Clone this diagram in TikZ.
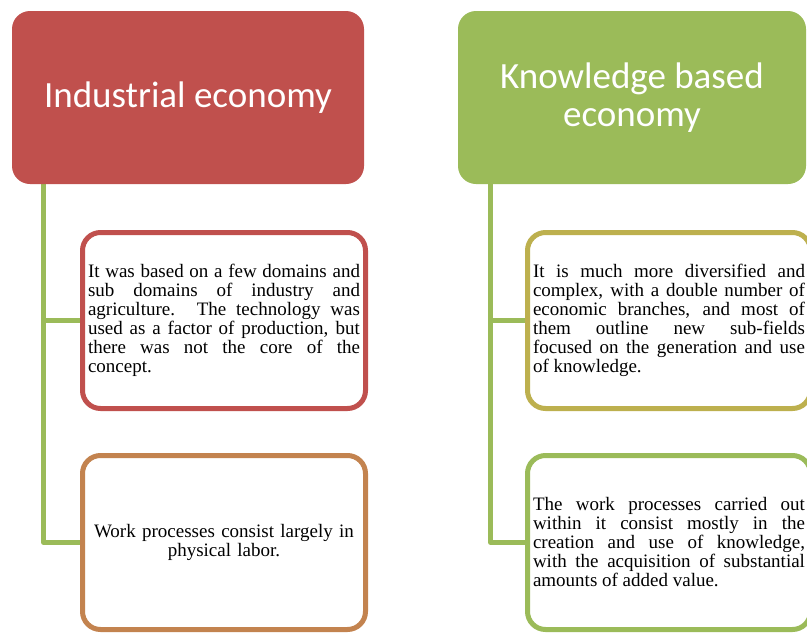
\documentclass[tikz,border=0pt]{standalone}
\usepackage{fontspec}
\setmainfont{Liberation Serif}
\newfontfamily\hdfont{Carlito}
\usetikzlibrary{backgrounds}
\setlength{\parindent}{0pt}
\tolerance=10000
\hyphenpenalty=10000
\definecolor{ired}{HTML}{C0504D}
\definecolor{kgreen}{HTML}{9BBB59}
\definecolor{ibrown}{HTML}{C3834F}
\definecolor{kolive}{HTML}{BDB04E}
\tikzset{
  header/.style={fill=#1, rounded corners=18pt, minimum height=173pt,
    inner sep=0pt, text=white, align=center,
    font=\hdfont\fontsize{37}{38.5}\selectfont},
  infobox/.style={draw=#1, fill=white, line width=5pt, rounded corners=18pt,
    minimum width=283pt, inner sep=0pt, text=black,
    font=\fontsize{19}{19}\selectfont},
  jtext/.style={text width=272pt, align=justify},
  ctext/.style={text width=272pt, align=center},
  link/.style={draw=kgreen, line width=5pt, line join=round}
}
\begin{document}
\begin{tikzpicture}[x=1pt,y=-1pt]
\useasboundingbox (0,0) rectangle (807,633);
% headers
\node[header=ired, minimum width=352pt] (h1) at (188,97.5) {Industrial economy};
\node[header=kgreen, minimum width=348pt] (h2) at (632,97.5) {Knowledge based\\economy};
% left boxes
\node[infobox=ired, jtext, minimum height=176pt] (b1) at (224,320.5)
  {It was based on a few domains and\linebreak
   sub domains of industry and\linebreak
   agriculture. The technology was\linebreak
   used as a factor of production, but\linebreak
   there was not the core of the\linebreak
   concept.};
\node[infobox=ibrown, ctext, minimum height=174pt] (b2) at (224,542.5)
  {Work processes consist largely in\\physical labor.};
% right boxes
\node[infobox=kolive, jtext, minimum height=176pt] (b3) at (669,320.5)
  {It is much more diversified and\linebreak
   complex, with a double number of\linebreak
   economic branches, and most of\linebreak
   them outline new sub-fields\linebreak
   focused on the generation and use\linebreak
   of knowledge.};
\node[infobox=kgreen, jtext, minimum height=174pt] (b4) at (669,542.5)
  {The work processes carried out\linebreak
   within it consist mostly in the\linebreak
   creation and use of knowledge,\linebreak
   with the acquisition of substantial\linebreak
   amounts of added value.};
% connectors
\coordinate (s1) at ([xshift=32pt]h1.south west);
\coordinate (s2) at ([xshift=33pt]h2.south west);
\begin{scope}[on background layer]
  \draw[link] (s1) |- (b1.west);
  \draw[link] (s1) |- (b2.west);
  \draw[link] (s2) |- (b3.west);
  \draw[link] (s2) |- (b4.west);
\end{scope}
\end{tikzpicture}
\end{document}
